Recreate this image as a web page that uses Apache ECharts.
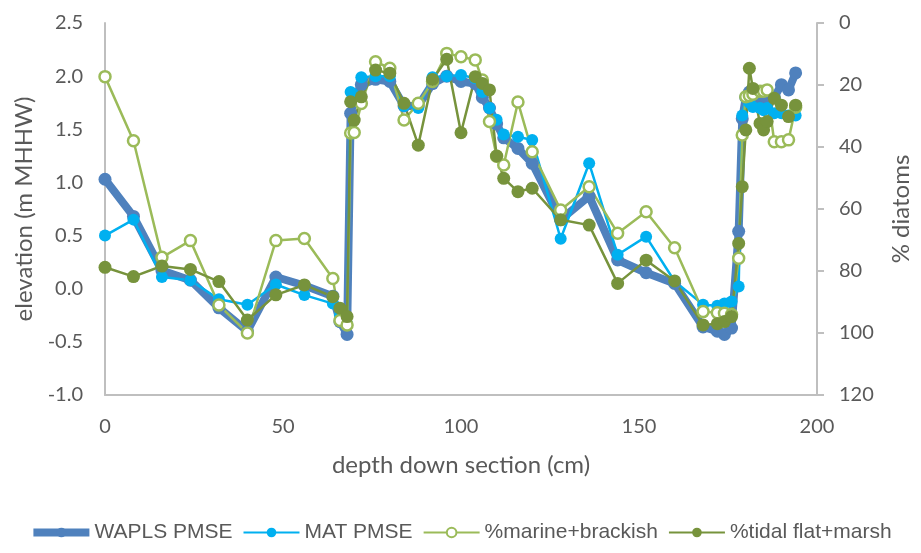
<!DOCTYPE html>
<html>
<head>
<meta charset="utf-8">
<script src="https://cdn.jsdelivr.net/npm/echarts@6/dist/echarts.min.js"></script>
<style>html,body{margin:0;padding:0;background:#fff}#c{width:921px;height:553px}</style>
</head>
<body>
<div id="c"></div>
<script>
const depth = [0, 8, 16, 24, 32, 40, 48, 56, 64, 66, 68, 69, 70, 72, 76, 80, 84, 88, 92, 96, 100, 104, 106, 108, 110, 112, 116, 120, 128, 136, 144, 152, 160, 168, 172, 174, 176, 178, 179, 180, 181, 182, 184, 185, 186, 188, 190, 192, 194];
const waplsPMSE = [1.03, 0.68, 0.17, 0.08, -0.18, -0.40, 0.11, 0.03, -0.07, -0.31, -0.43, 1.65, 1.78, 1.92, 1.97, 1.95, 1.72, 1.72, 1.93, 2.00, 1.95, 1.93, 1.80, 1.70, 1.55, 1.42, 1.32, 1.18, 0.65, 0.87, 0.27, 0.15, 0.05, -0.36, -0.40, -0.43, -0.37, 0.54, 1.60, 1.80, 1.85, 1.78, 1.75, 1.72, 1.78, 1.80, 1.92, 1.87, 2.03];
const matPMSE = [0.50, 0.65, 0.11, 0.08, -0.10, -0.15, 0.04, -0.06, -0.14, -0.25, -0.33, 1.85, 1.80, 1.99, 2.00, 2.00, 1.72, 1.70, 1.99, 2.00, 2.01, 1.98, 1.85, 1.70, 1.59, 1.45, 1.43, 1.40, 0.47, 1.18, 0.32, 0.49, 0.07, -0.15, -0.16, -0.14, -0.12, 0.02, 1.63, 1.80, 1.75, 1.71, 1.70, 1.68, 1.70, 1.65, 1.65, 1.63, 1.63];
const marineBrackish = [17.3, 38, 75.6, 70.2, 91, 100, 70.2, 69.5, 82.4, 96, 97.4, 35.5, 35.3, 26, 12.5, 14.6, 31.3, 25.9, 18.9, 9.8, 10.9, 11.9, 18.4, 31.8, 43, 45.8, 25.5, 41.5, 60.3, 52.8, 67.8, 60.9, 72.5, 93.1, 93.5, 93.6, 94, 75.9, 36.1, 23.8, 23.5, 23, 22, 22, 21.6, 38.3, 38.3, 37.7, 27.2];
const tidalFlatMarsh = [78.8, 81.8, 78.4, 79.5, 83.4, 95.8, 87.7, 84.5, 88.3, 92, 94.7, 25.4, 31.3, 23.8, 15.2, 16.2, 25.9, 39.4, 18.2, 11.7, 35.4, 17.3, 19.5, 21.6, 42.9, 50.1, 54.4, 53.3, 63.5, 65.2, 84, 76.5, 83.2, 97.4, 97, 96.3, 94.7, 71.1, 52.8, 34.5, 14.6, 21.1, 32.4, 34.5, 31.8, 24.3, 26.5, 30.2, 26.5];
const seriesNames = ['WAPLS PMSE', 'MAT PMSE', '%marine+brackish', '%tidal flat+marsh'];

const pair = arr => depth.map((d, i) => [d, arr[i]]);
const FONT = 'Lato';
const TXT = '#595959';
const AX = '#BFBFBF';

const chart = echarts.init(document.getElementById('c'), null, {renderer: 'canvas'});
chart.setOption({
  animation: false,
  backgroundColor: '#fff',
  grid: {left: 105, right: 103, top: 23, bottom: 158, containLabel: false},
  legend: {
    top: 517, left: 'center', itemWidth: 56, itemHeight: 12, itemGap: 10,
    textStyle: {fontFamily: 'Liberation Sans', fontSize: 21, color: TXT},
    data: [
      {name: seriesNames[0], lineStyle: {width: 8}},
      {name: seriesNames[1]},
      {name: seriesNames[2]},
      {name: seriesNames[3]}
    ]
  },
  xAxis: {
    type: 'value', min: 0, max: 200, interval: 50,
    name: 'depth down section (cm)', nameLocation: 'middle', nameGap: 58,
    nameTextStyle: {fontFamily: FONT, fontSize: 24, color: TXT},
    axisLine: {onZero: false, lineStyle: {color: AX, width: 2}},
    axisTick: {show: false},
    splitLine: {show: false},
    axisLabel: {fontFamily: FONT, fontSize: 20, color: TXT, margin: 22}
  },
  yAxis: [{
    type: 'value', min: -1, max: 2.5, interval: 0.5, position: 'left',
    name: 'elevation (m MHHW)', nameLocation: 'middle', nameGap: 66,
    nameTextStyle: {fontFamily: FONT, fontSize: 24, color: TXT},
    axisLine: {show: true, onZero: false, lineStyle: {color: AX, width: 2}},
    axisTick: {show: false},
    splitLine: {show: false},
    axisLabel: {fontFamily: FONT, fontSize: 20, color: TXT, margin: 22, formatter: v => v.toFixed(1)}
  }, {
    type: 'value', min: 0, max: 120, interval: 20, position: 'right', inverse: true,
    name: '% diatoms', nameLocation: 'middle', nameGap: 72,
    nameTextStyle: {fontFamily: FONT, fontSize: 24, color: TXT},
    axisLine: {show: true, onZero: false, lineStyle: {color: AX, width: 2}},
    axisTick: {show: true, length: 7, lineStyle: {color: AX, width: 2}},
    splitLine: {show: false},
    axisLabel: {fontFamily: FONT, fontSize: 20, color: TXT, margin: 22}
  }],
  series: [{
    name: seriesNames[0], type: 'line', yAxisIndex: 0, data: pair(waplsPMSE),
    symbol: 'circle', symbolSize: 13,
    lineStyle: {color: '#4F81BD', width: 8},
    itemStyle: {color: '#4F81BD'}
  }, {
    name: seriesNames[1], type: 'line', yAxisIndex: 0, data: pair(matPMSE),
    symbol: 'circle', symbolSize: 12,
    lineStyle: {color: '#00B0F0', width: 2.5},
    itemStyle: {color: '#00B0F0'}
  }, {
    name: seriesNames[2], type: 'line', yAxisIndex: 1, data: pair(marineBrackish),
    symbol: 'circle', symbolSize: 11, showAllSymbol: true,
    lineStyle: {color: '#9BBB59', width: 2.5},
    itemStyle: {color: '#fff', borderColor: '#9BBB59', borderWidth: 2.5}
  }, {
    name: seriesNames[3], type: 'line', yAxisIndex: 1, data: pair(tidalFlatMarsh),
    symbol: 'circle', symbolSize: 13, showAllSymbol: true,
    lineStyle: {color: '#77933C', width: 2.5},
    itemStyle: {color: '#77933C'}
  }]
});
</script>
</body>
</html>
